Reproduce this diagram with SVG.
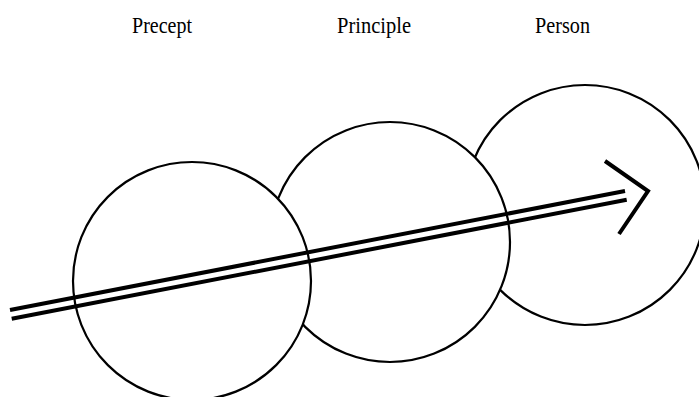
<svg xmlns="http://www.w3.org/2000/svg" width="699" height="397" viewBox="0 0 699 397">
<style>
.lbl{font-family:"Liberation Serif","Times New Roman",serif;font-size:23px;fill:#000}
.c{fill:#fff;stroke:#000;stroke-width:2.2}
.ln{stroke:#000;stroke-width:4;fill:none;stroke-linecap:butt}
</style>
<rect width="699" height="397" fill="#fff"/>
<g id="labels">
<text class="lbl" x="132" y="33" textLength="60" lengthAdjust="spacingAndGlyphs">Precept</text>
<text class="lbl" x="337" y="33" textLength="74" lengthAdjust="spacingAndGlyphs">Principle</text>
<text class="lbl" x="535" y="33" textLength="55" lengthAdjust="spacingAndGlyphs">Person</text>
</g>
<g id="person"><circle class="c" cx="585" cy="205" r="120"/></g>
<g id="principle"><circle class="c" cx="390" cy="242" r="120"/></g>
<g id="precept"><circle class="c" cx="192" cy="281" r="119"/></g>
<g id="connectors">
<line class="ln" x1="10" y1="310" x2="625" y2="191"/>
<line class="ln" x1="11.7" y1="318.8" x2="626.7" y2="199.8"/>
<polyline class="ln" points="605,161 648,191 619,234" stroke-linejoin="miter" stroke-width="4.5"/>
</g>
</svg>
